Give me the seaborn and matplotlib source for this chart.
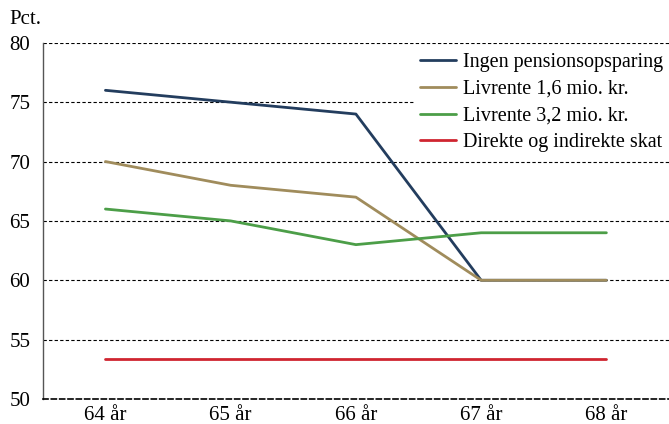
import matplotlib
matplotlib.use("Agg")
import matplotlib.pyplot as plt
import seaborn as sns
import pandas as pd
from matplotlib.ticker import FixedLocator

categories = ["64 år", "65 år", "66 år", "67 år", "68 år"]
ingen = [76, 75, 74, 60, 60]
livrente16 = [70, 68, 67, 60, 60]
livrente32 = [66, 65, 63, 64, 64]
skat = [53.4, 53.4, 53.4, 53.4, 53.4]
series_names = ["Ingen pensionsopsparing", "Livrente 1,6 mio. kr.",
                "Livrente 3,2 mio. kr.", "Direkte og indirekte skat"]
colors = ["#233d5e", "#a08c5c", "#4c9e48", "#cf2530"]

rows = []
for name, vals in zip(series_names, [ingen, livrente16, livrente32, skat]):
    for i, (c, v) in enumerate(zip(categories, vals)):
        rows.append({"x": i, "cat": c, "value": v, "serie": name})
df = pd.DataFrame(rows)

sns.set_theme(style="white")
plt.rcParams["font.family"] = ["Liberation Serif", "DejaVu Serif"]

fig = plt.figure(figsize=(6.69, 4.24), dpi=100)
ax = fig.add_axes([0.064, 0.059, 0.936, 0.840])

sns.lineplot(data=df, x="x", y="value", hue="serie", palette=colors,
             hue_order=series_names, linewidth=2.0, ax=ax, sort=False, legend=True)

ax.set_xlim(-0.5, 4.5)
ax.set_ylim(50, 80)
ax.set_yticks(range(50, 81, 5))
ax.set_xticks(range(len(categories)))
ax.set_xticklabels(categories)
ax.xaxis.set_minor_locator(FixedLocator([-0.5 + i for i in range(6)]))
ax.tick_params(axis="x", which="major", length=0, labelsize=15, pad=5, colors="black")
ax.tick_params(axis="x", which="minor", length=5, width=1, color="#444444", direction="out")
ax.tick_params(axis="y", which="major", length=6, width=1, color="#444444", direction="out",
               labelsize=15, pad=3)
for lab in ax.get_yticklabels() + ax.get_xticklabels():
    lab.set_color("black")

ax.grid(axis="y", linestyle=(0, (3, 2)), color="black", linewidth=0.8)
ax.set_axisbelow(True)
for s in ["top", "right"]:
    ax.spines[s].set_visible(False)
ax.spines["bottom"].set_visible(True)
ax.spines["bottom"].set_linestyle((0, (3, 2)))
ax.spines["bottom"].set_color("black")
ax.spines["bottom"].set_linewidth(1.2)
ax.spines["left"].set_color("#555555")
ax.spines["left"].set_linewidth(1.0)
ax.set_xlabel("")
ax.set_ylabel("")

fig.text(0.0135, 0.953, "Pct.", fontsize=15, ha="left", va="center", color="black")

leg = ax.legend(loc="upper left", bbox_to_anchor=(0.619, 0.889),
                bbox_transform=fig.transFigure, frameon=True,
                fontsize=14.5, handlelength=1.8, handletextpad=0.35,
                labelspacing=0.38, borderaxespad=0.0, borderpad=0.3)
leg.get_frame().set_facecolor("white")
leg.get_frame().set_edgecolor("white")
leg.get_frame().set_alpha(1.0)
leg.get_frame().set_boxstyle("square", pad=0)
for t in leg.get_texts():
    t.set_color("black")

fig.savefig("out.png", dpi=100)
